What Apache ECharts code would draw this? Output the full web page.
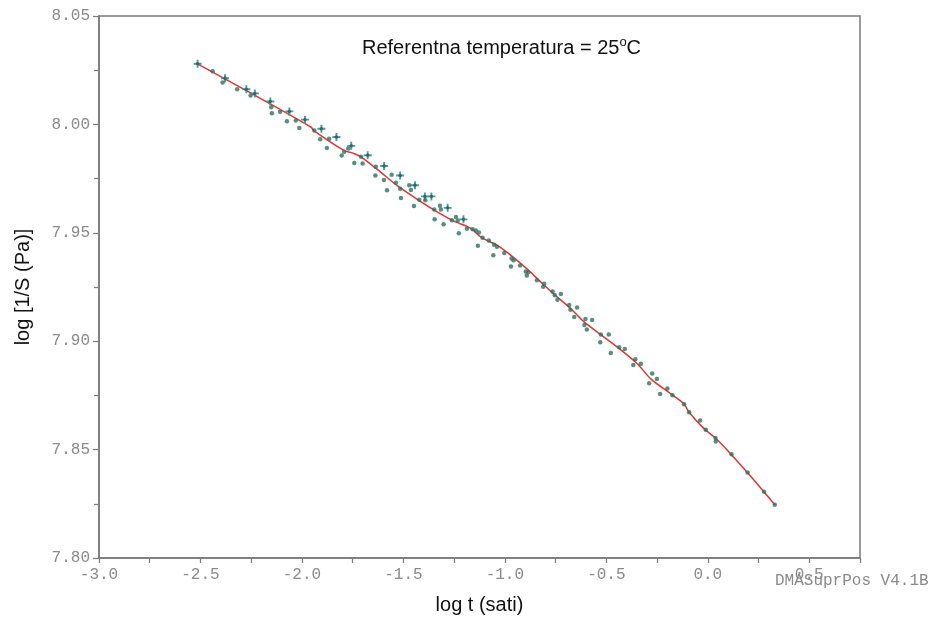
<!DOCTYPE html>
<html><head><meta charset="utf-8">
<script src="https://cdn.jsdelivr.net/npm/echarts@6/dist/echarts.min.js"></script>
<style>html,body{margin:0;padding:0;background:#fff}#c{width:941px;height:620px}</style>
</head><body><div id="c"></div>
<script>
// measured points (dots)
const dotX = [-2.440,-2.391,-2.319,-2.253,-2.151,-2.148,-2.108,-2.074,-2.030,-2.013,-1.939,-1.910,-1.866,-1.877,-1.792,-1.804,-1.772,-1.742,-1.709,-1.701,-1.636,-1.638,-1.596,-1.558,-1.581,-1.537,-1.516,-1.512,-1.471,-1.463,-1.422,-1.448,-1.392,-1.348,-1.346,-1.320,-1.315,-1.302,-1.261,-1.241,-1.232,-1.227,
  -1.187,-1.159,-1.143,-1.128,-1.110,-1.133,-1.079,-1.053,-1.039,-1.057,-1.003,-0.967,-0.957,-0.970,-0.925,-0.897,-0.885,-0.892,-0.842,-0.806,-0.811,-0.765,-0.754,-0.724,-0.741,-0.683,-0.677,-0.644,-0.658,-0.603,-0.570,-0.608,-0.596,-0.527,-0.488,-0.530,-0.478,-0.437,-0.409,-0.357,-0.330,-0.367,-0.274,-0.251,-0.289,-0.199,-0.235,-0.174,-0.117,-0.092,-0.038,-0.010,0.038,0.039,0.117,0.196,0.277,0.330];
const dotY = [8.0245,8.0193,8.0162,8.0133,8.0079,8.0052,8.0058,8.0014,8.0018,7.9983,7.9972,7.9932,7.9934,7.9891,7.9874,7.9857,7.9889,7.9822,7.9851,7.9820,7.9805,7.9764,7.9743,7.9768,7.9696,7.9731,7.9703,7.9661,7.9719,7.9697,7.9652,7.9624,7.9650,7.9607,7.9563,7.9625,7.9607,7.9539,7.9558,7.9573,7.9557,7.9498,
  7.9519,7.9516,7.9511,7.9501,7.9477,7.9440,7.9464,7.9445,7.9436,7.9396,7.9407,7.9382,7.9373,7.9344,7.9349,7.9321,7.9318,7.9303,7.9281,7.9265,7.9251,7.9229,7.9212,7.9218,7.9191,7.9167,7.9145,7.9156,7.9112,7.9102,7.9098,7.9075,7.9054,7.9031,7.9031,7.8995,7.8946,7.8972,7.8964,7.8917,7.8896,7.8890,7.8851,7.8826,7.8806,7.8782,7.8756,7.8751,7.8709,7.8672,7.8634,7.8591,7.8553,7.8537,7.8479,7.8394,7.8306,7.8246];
// measured points (crosses)
const crossX = [-2.514,-2.379,-2.274,-2.232,-2.156,-2.062,-1.985,-1.904,-1.830,-1.757,-1.676,-1.595,-1.516,-1.443,-1.394,-1.362,-1.282,-1.204];
const crossY = [8.0280,8.0213,8.0162,8.0143,8.0106,8.0060,8.0022,7.9980,7.9942,7.9901,7.9858,7.9808,7.9764,7.9719,7.9668,7.9668,7.9615,7.9562];
// fitted master curve
const fitX = [-2.517,-2.251,-1.956,-1.940,-1.793,-1.744,-1.709,-1.626,-1.527,-1.424,-1.350,-1.256,-1.167,-1.118,-1.034,-0.970,-0.887,-0.813,-0.759,-0.675,-0.611,-0.527,-0.438,-0.345,-0.281,-0.182,-0.118,-0.094,-0.020,0.039,0.113,0.197,0.276,0.330];
const fitY = [8.0280,8.0144,7.9988,7.9970,7.9880,7.9866,7.9850,7.9790,7.9715,7.9650,7.9606,7.9556,7.9520,7.9480,7.9440,7.9396,7.9330,7.9264,7.9218,7.9150,7.9090,7.9030,7.8967,7.8894,7.8826,7.8757,7.8712,7.8675,7.8598,7.8552,7.8480,7.8392,7.8306,7.8246];
const xTickVals = [-3.0,-2.5,-2.0,-1.5,-1.0,-0.5,0.0,0.5];
const yTickVals = [7.80,7.85,7.90,7.95,8.00,8.05];

const zip = (a,b) => a.map((v,i)=>[v,b[i]]);
const mono = '"Liberation Mono","DejaVu Sans Mono",monospace';
const sans = '"Liberation Sans",Arial,sans-serif';
const axisCol = '#7a7a7a';
const plus = 'path://M0.38,0H0.62V0.38H1V0.62H0.62V1H0.38V0.62H0V0.38H0.38Z';

const chart = echarts.init(document.getElementById('c'));
chart.setOption({
  animation:false,
  backgroundColor:'#fff',
  grid:{left:99,right:81,top:16,bottom:57,show:true,borderColor:axisCol,borderWidth:1.5,containLabel:false},
  xAxis:{type:'value',min:xTickVals[0],max:0.75,interval:0.5,
    name:'log t (sati)',nameLocation:'middle',nameGap:37,
    nameTextStyle:{fontFamily:sans,fontSize:20,color:'#111'},
    axisLine:{onZero:false,lineStyle:{color:axisCol,width:1.5}},
    axisTick:{show:true,length:5,lineStyle:{color:axisCol,width:1.2}},
    minorTick:{show:true,splitNumber:2,length:5,lineStyle:{color:axisCol,width:1.2}},
    splitLine:{show:false},
    axisLabel:{margin:9,fontFamily:mono,fontSize:16,color:'#8a8a8a',
      formatter:v=>{const m=xTickVals.find(t=>Math.abs(t-v)<1e-6);return m===undefined?'':m.toFixed(1);}}},
  yAxis:{type:'value',min:yTickVals[0],max:yTickVals[yTickVals.length-1],interval:0.05,
    name:'log [1/S (Pa)]',nameLocation:'middle',nameGap:66,nameRotate:90,
    nameTextStyle:{fontFamily:sans,fontSize:20,color:'#111'},
    axisLine:{show:true,onZero:false,lineStyle:{color:axisCol,width:1.5}},
    axisTick:{show:true,length:6,lineStyle:{color:axisCol,width:1.2}},
    minorTick:{show:true,splitNumber:2,length:5,lineStyle:{color:axisCol,width:1.2}},
    splitLine:{show:false},
    axisLabel:{margin:9,fontFamily:mono,fontSize:16,color:'#8a8a8a',
      formatter:v=>{const m=yTickVals.find(t=>Math.abs(t-v)<1e-6);return m===undefined?'':m.toFixed(2);}}},
  series:[
    {type:'line',data:zip(fitX,fitY),smooth:0.3,showSymbol:false,lineStyle:{color:'#e0342e',width:1.5},z:2},
    {type:'scatter',data:zip(crossX,crossY),symbol:plus,symbolSize:8,itemStyle:{color:'#3b8f9a',opacity:0.9},z:3},
    {type:'scatter',data:zip(crossX,crossY),symbol:'circle',symbolSize:3.5,itemStyle:{color:'#2a5e52'},z:4},
    {type:'scatter',data:zip(dotX,dotY),symbol:'circle',symbolSize:4.5,itemStyle:{color:'#2e7262'},z:4}
  ],
  graphic:[
    {type:'text',left:362,top:36,style:{text:'Referentna temperatura = 25{s|o}C',
      rich:{s:{fontFamily:sans,fontSize:13,verticalAlign:'top',padding:[0,0,12,0],fill:'#111'}},
      fontFamily:sans,fontSize:20,fill:'#111'}},
    {type:'text',left:775,top:573,style:{text:'DMASuprPos V4.1B',fontFamily:mono,fontSize:16,fill:'#8a8a8a'}}
  ]
});
</script></body></html>
